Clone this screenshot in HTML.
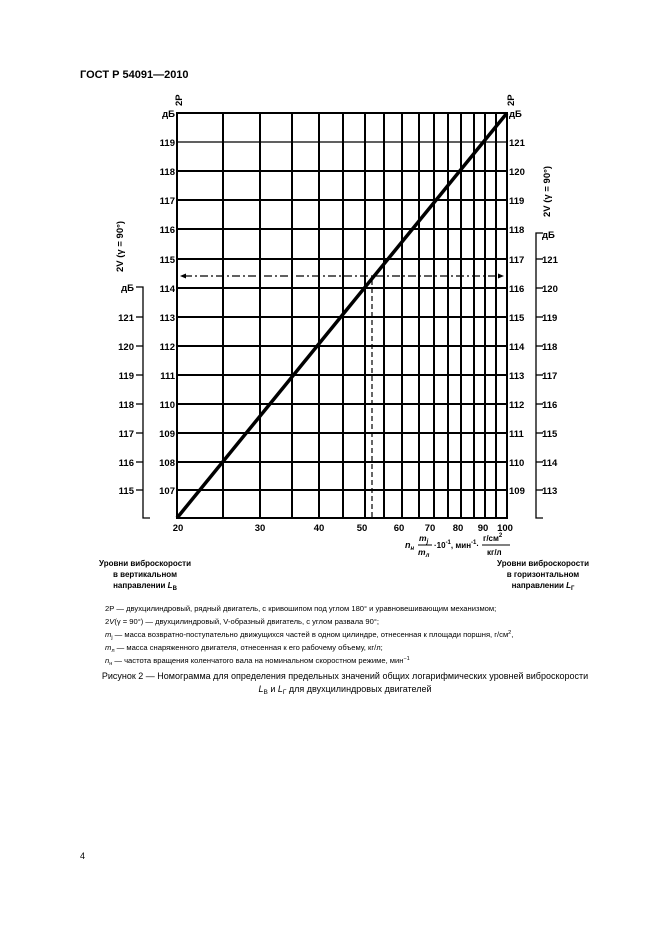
<!DOCTYPE html>
<html><head><meta charset="utf-8"><style>
html,body{margin:0;padding:0;background:#fff;}
svg{display:block;font-family:"Liberation Sans",Arial,sans-serif;}
.b{font-weight:bold;font-size:9.5px;}
.n{font-size:7.6px;}
</style></head><body>
<svg width="661" height="936" viewBox="0 0 661 936" xmlns="http://www.w3.org/2000/svg">
<text x="80" y="78" font-size="11" font-weight="bold">ГОСТ Р 54091—2010</text>

<g stroke="#000" stroke-width="2" fill="none">
<rect x="177" y="113" width="330" height="405"/>
<line x1="177" y1="142" x2="507" y2="142" stroke-width="1.3"/>
<line x1="177" y1="171" x2="507" y2="171"/>
<line x1="177" y1="200" x2="507" y2="200"/>
<line x1="177" y1="229" x2="507" y2="229"/>
<line x1="177" y1="259" x2="507" y2="259"/>
<line x1="177" y1="288" x2="507" y2="288"/>
<line x1="177" y1="317" x2="507" y2="317"/>
<line x1="177" y1="346" x2="507" y2="346"/>
<line x1="177" y1="375" x2="507" y2="375"/>
<line x1="177" y1="404" x2="507" y2="404"/>
<line x1="177" y1="433" x2="507" y2="433"/>
<line x1="177" y1="462" x2="507" y2="462"/>
<line x1="177" y1="490" x2="507" y2="490"/>
<line x1="223" y1="113" x2="223" y2="518"/>
<line x1="260" y1="113" x2="260" y2="518"/>
<line x1="292" y1="113" x2="292" y2="518"/>
<line x1="319" y1="113" x2="319" y2="518"/>
<line x1="343" y1="113" x2="343" y2="518"/>
<line x1="365" y1="113" x2="365" y2="518"/>
<line x1="384" y1="113" x2="384" y2="518"/>
<line x1="402" y1="113" x2="402" y2="518"/>
<line x1="419" y1="113" x2="419" y2="518"/>
<line x1="434" y1="113" x2="434" y2="518"/>
<line x1="448" y1="113" x2="448" y2="518"/>
<line x1="461" y1="113" x2="461" y2="518"/>
<line x1="474" y1="113" x2="474" y2="518"/>
<line x1="485" y1="113" x2="485" y2="518"/>
<line x1="496" y1="113" x2="496" y2="518"/>
<line x1="177" y1="518" x2="507" y2="113" stroke-width="3.5"/>
<line x1="372" y1="280" x2="372" y2="518" stroke-width="1.2" stroke-dasharray="5,3"/>
<line x1="184" y1="276" x2="498" y2="276" stroke-width="1.2" stroke-dasharray="8,3,2,3"/>
<!-- left axis -->
<polyline points="136,287 143,287 143,518 150,518" stroke-width="1.3"/>
<line x1="136" y1="317" x2="143" y2="317" stroke-width="1.3"/>
<line x1="136" y1="346" x2="143" y2="346" stroke-width="1.3"/>
<line x1="136" y1="375" x2="143" y2="375" stroke-width="1.3"/>
<line x1="136" y1="404" x2="143" y2="404" stroke-width="1.3"/>
<line x1="136" y1="433" x2="143" y2="433" stroke-width="1.3"/>
<line x1="136" y1="462" x2="143" y2="462" stroke-width="1.3"/>
<line x1="136" y1="490" x2="143" y2="490" stroke-width="1.3"/>
<!-- right axis -->
<polyline points="543,233 536,233 536,518 543,518" stroke-width="1.3"/>
<line x1="536" y1="259" x2="543" y2="259" stroke-width="1.3"/>
<line x1="536" y1="288" x2="543" y2="288" stroke-width="1.3"/>
<line x1="536" y1="317" x2="543" y2="317" stroke-width="1.3"/>
<line x1="536" y1="346" x2="543" y2="346" stroke-width="1.3"/>
<line x1="536" y1="375" x2="543" y2="375" stroke-width="1.3"/>
<line x1="536" y1="404" x2="543" y2="404" stroke-width="1.3"/>
<line x1="536" y1="433" x2="543" y2="433" stroke-width="1.3"/>
<line x1="536" y1="462" x2="543" y2="462" stroke-width="1.3"/>
<line x1="536" y1="490" x2="543" y2="490" stroke-width="1.3"/>
</g>
<polygon points="180,276 186,273.5 186,278.5" fill="#000"/>
<polygon points="504,276 498,273.5 498,278.5" fill="#000"/>

<g class="b" text-anchor="end">
<text x="175" y="117">дБ</text>
<text x="175" y="146">119</text><text x="175" y="175">118</text><text x="175" y="204">117</text>
<text x="175" y="233">116</text><text x="175" y="263">115</text><text x="175" y="292">114</text>
<text x="175" y="321">113</text><text x="175" y="350">112</text><text x="175" y="379">111</text>
<text x="175" y="408">110</text><text x="175" y="437">109</text><text x="175" y="466">108</text>
<text x="175" y="494">107</text>
<text x="134" y="291">дБ</text>
<text x="134" y="321">121</text><text x="134" y="350">120</text><text x="134" y="379">119</text>
<text x="134" y="408">118</text><text x="134" y="437">117</text><text x="134" y="466">116</text>
<text x="134" y="494">115</text>
</g>
<g class="b">
<text x="509" y="117">дБ</text>
<text x="509" y="146">121</text><text x="509" y="175">120</text><text x="509" y="204">119</text>
<text x="509" y="233">118</text><text x="509" y="263">117</text><text x="509" y="292">116</text>
<text x="509" y="321">115</text><text x="509" y="350">114</text><text x="509" y="379">113</text>
<text x="509" y="408">112</text><text x="509" y="437">111</text><text x="509" y="466">110</text>
<text x="509" y="494">109</text>
<text x="542" y="238">дБ</text>
<text x="542" y="263">121</text><text x="542" y="292">120</text><text x="542" y="321">119</text>
<text x="542" y="350">118</text><text x="542" y="379">117</text><text x="542" y="408">116</text>
<text x="542" y="437">115</text><text x="542" y="466">114</text><text x="542" y="494">113</text>
</g>
<g class="b" text-anchor="middle">
<text x="178" y="531">20</text><text x="260" y="531">30</text><text x="319" y="531">40</text>
<text x="362" y="531">50</text><text x="399" y="531">60</text><text x="430" y="531">70</text>
<text x="458" y="531">80</text><text x="483" y="531">90</text><text x="505" y="531">100</text>
</g>
<text class="b" transform="translate(182,106) rotate(-90)">2P</text>
<text class="b" transform="translate(514,106) rotate(-90)">2P</text>
<text class="b" transform="translate(123,272) rotate(-90)">2V (γ = 90°)</text>
<text class="b" transform="translate(550,217) rotate(-90)">2V (γ = 90°)</text>

<text x="405" y="548" font-size="9" font-weight="bold" font-style="italic">n<tspan font-size="6" dy="2">н</tspan></text>
<text x="419" y="541" font-size="8.5" font-weight="bold" font-style="italic">m<tspan font-size="6" dy="2">j</tspan></text>
<line x1="418" y1="545" x2="432" y2="545" stroke="#000" stroke-width="1"/>
<text x="418" y="555" font-size="8.5" font-weight="bold" font-style="italic">m<tspan font-size="6" dy="2">л</tspan></text>
<text x="434" y="548" font-size="8" font-weight="bold">·10<tspan font-size="6" dy="-4">-1</tspan><tspan dy="4">,  мин</tspan><tspan font-size="6" dy="-4">-1</tspan><tspan dy="4">·</tspan></text>
<text x="483" y="541" font-size="8" font-weight="bold">г/см<tspan font-size="6" dy="-4">2</tspan></text>
<line x1="482" y1="545" x2="510" y2="545" stroke="#000" stroke-width="1"/>
<text x="487" y="555" font-size="8" font-weight="bold">кг/л</text>

<g font-size="8" font-weight="bold" text-anchor="middle">
<text x="145" y="566">Уровни виброскорости</text>
<text x="145" y="577">в вертикальном</text>
<text x="145" y="588">направлении <tspan font-style="italic">L</tspan><tspan font-size="6" dy="2">В</tspan></text>
<text x="543" y="566">Уровни виброскорости</text>
<text x="543" y="577">в горизонтальном</text>
<text x="543" y="588">направлении <tspan font-style="italic">L</tspan><tspan font-size="6" dy="2">Г</tspan></text>
</g>

<g class="n">
<text x="105" y="611">2Р — двухцилиндровый, рядный двигатель, с кривошипом под углом 180° и уравновешивающим механизмом;</text>
<text x="105" y="624">2<tspan font-style="italic">V</tspan>(γ = 90°) — двухцилиндровый, V-образный двигатель, с углом развала 90°;</text>
<text x="105" y="637"><tspan font-style="italic">m</tspan><tspan font-size="5.5" dy="2">j</tspan><tspan dy="-2"> — масса возвратно-поступательно движущихся частей в одном цилиндре, отнесенная к площади поршня, г/см</tspan><tspan font-size="5.5" dy="-3">2</tspan><tspan dy="3">,</tspan></text>
<text x="105" y="650"><tspan font-style="italic">m</tspan><tspan font-size="5.5" dy="2">л</tspan><tspan dy="-2"> — масса снаряженного двигателя, отнесенная к его рабочему объему, кг/л;</tspan></text>
<text x="105" y="663"><tspan font-style="italic">n</tspan><tspan font-size="5.5" dy="2">н</tspan><tspan dy="-2"> — частота вращения коленчатого вала на номинальном скоростном режиме, мин</tspan><tspan font-size="5.5" dy="-3">−1</tspan></text>
</g>
<g font-size="9" text-anchor="middle">
<text x="345" y="679">Рисунок 2 — Номограмма для определения предельных значений общих логарифмических уровней виброскорости</text>
<text x="345" y="692"><tspan font-style="italic">L</tspan><tspan font-size="6.5" dy="2">В</tspan><tspan dy="-2"> и </tspan><tspan font-style="italic">L</tspan><tspan font-size="6.5" dy="2">Г</tspan><tspan dy="-2"> для двухцилиндровых двигателей</tspan></text>
</g>
<text x="80" y="859" font-size="9">4</text>
</svg>
</body></html>
